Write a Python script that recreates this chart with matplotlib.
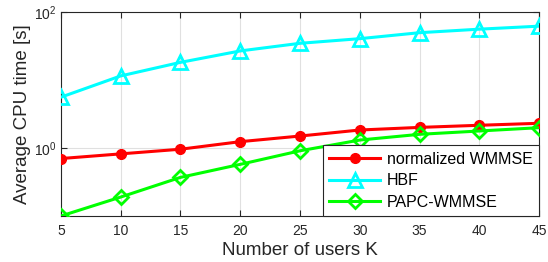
import matplotlib
matplotlib.use('Agg')
import matplotlib.pyplot as plt
from matplotlib.ticker import FixedLocator, NullLocator, LogFormatterMathtext

plt.rcParams['font.family'] = ['Liberation Sans', 'DejaVu Sans']
plt.rcParams['mathtext.fontset'] = 'custom'
plt.rcParams['mathtext.rm'] = 'Liberation Sans'

# Dados
users = [5, 10, 15, 20, 25, 30, 35, 40, 45]
wmmse = [0.70, 0.82, 0.96, 1.24, 1.50, 1.84, 2.01, 2.16, 2.31]
hbf = [5.6, 11.5, 18.2, 26.8, 34.7, 40.6, 49.7, 56.0, 62.0]
papc = [0.10, 0.19, 0.37, 0.575, 0.91, 1.31, 1.59, 1.78, 1.99]

labels = ['normalized WMMSE', 'HBF', 'PAPC-WMMSE']

fig = plt.figure(figsize=(5.48, 2.62), dpi=100)
ax = fig.add_axes([0.1113, 0.1756, 0.8723, 0.7784])

ax.plot(users, wmmse, color='#ff0000', lw=2.2, marker='o', ms=7,
        mfc='#ff0000', mec='#ff0000', label=labels[0], zorder=3)
ax.plot(users, hbf, color='#00ffff', lw=2.2, marker='^', ms=10,
        mfc='none', mec='#00ffff', mew=2, label=labels[1], zorder=3)
ax.plot(users, papc, color='#00ff00', lw=2.2, marker='D', ms=7,
        mfc='none', mec='#00ff00', mew=2, label=labels[2], zorder=3)

ax.set_yscale('log')
ax.set_xlim(5, 45)
ax.set_ylim(0.1, 100)
ax.set_xticks(users)
ax.yaxis.set_major_locator(FixedLocator([1, 100]))
ax.yaxis.set_major_formatter(LogFormatterMathtext())
ax.yaxis.set_minor_locator(NullLocator())

ax.grid(True, color='#e0e0e0', lw=0.8)
ax.set_axisbelow(True)
for s in ax.spines.values():
    s.set_color('#262626')
    s.set_linewidth(0.8)
ax.tick_params(direction='in', top=True, right=True, length=4,
               labelsize=10, colors='#262626', labelcolor='#262626')
ax.tick_params(axis='x', pad=6)

ax.set_xlabel('Number of users K', fontsize=13.5, color='#262626', labelpad=3)
ax.set_ylabel('Average CPU time [s]', fontsize=13.5, color='#262626', labelpad=2)

leg = ax.legend(loc='lower right', fontsize=11.5, borderaxespad=0,
                fancybox=False, framealpha=1, edgecolor='#262626',
                handlelength=3.2, labelspacing=0.4, borderpad=0.4,
                handletextpad=0.4)
leg.get_frame().set_linewidth(0.8)

fig.savefig('out.png', dpi=100)
